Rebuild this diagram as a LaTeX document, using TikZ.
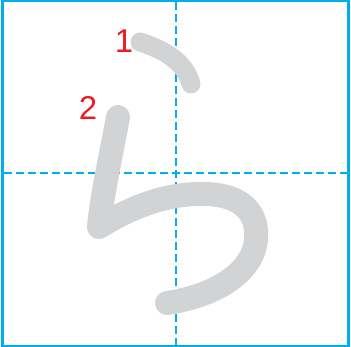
\documentclass[tikz,border=0pt]{standalone}
\usepackage{fontspec}
\setsansfont{Liberation Sans}
\usetikzlibrary{calc}
\definecolor{gridcyan}{HTML}{00AEEF}
\definecolor{strokegray}{HTML}{D1D3D4}
\definecolor{numred}{HTML}{ED1C24}

\begin{document}
\begin{tikzpicture}[
    x=1pt, y=-1pt,
    boxframe/.style = {draw=gridcyan, line width=2.5pt},
    dashguide/.style= {draw=gridcyan, line width=1.6pt, dash pattern=on 8pt off 4pt},
    kana/.style     = {draw=strokegray, line cap=round, line join=round},
    num/.style      = {text=numred, inner sep=0pt, anchor=center,
                       font=\sffamily\fontsize{33}{33}\selectfont},
  ]
  \useasboundingbox (0,0) rectangle (351,347);

  % --- Frame and guides ------------------------------------------------
  \coordinate (tl) at (2.5,1);
  \coordinate (br) at (348.7,346);
  \draw[boxframe] (tl) rectangle (br);
  \coordinate (vtop) at (176.2,2);
  \coordinate (vbot) at (176.2,345);
  \coordinate (hl)   at (3.5,173.3);
  \coordinate (hr)   at (347.5,173.3);
  \draw[dashguide] (vtop) -- (vbot);
  \draw[dashguide] (hl) -- (hr);

  % --- Stroke 1 --------------------------------------------------------
  \coordinate (s1a) at (140,42);
  \coordinate (s1b) at (191,84);
  \draw[kana, line width=19pt] (s1a) .. controls (165,50) and (185,62) .. (s1b);

  % --- Stroke 2 --------------------------------------------------------
  \coordinate (s2a) at (118,117);
  \coordinate (s2k) at (99,227);
  \coordinate (s2t) at (205,194);
  \coordinate (s2r) at (256,240);
  \coordinate (s2e) at (167,303);
  \draw[kana, line width=24pt] (s2a) .. controls (112,150) and (102,195) .. (s2k)
    .. controls (130,208) and (165,193) .. (s2t)
    .. controls (245,195) and (258,215) .. (s2r)
    .. controls (253,270) and (220,295) .. (s2e);

  % --- Stroke numbers --------------------------------------------------
  \node[num] (n1) at (124,41) {1};
  \node[num] (n2) at (88,108) {2};

\end{tikzpicture}
\end{document}
